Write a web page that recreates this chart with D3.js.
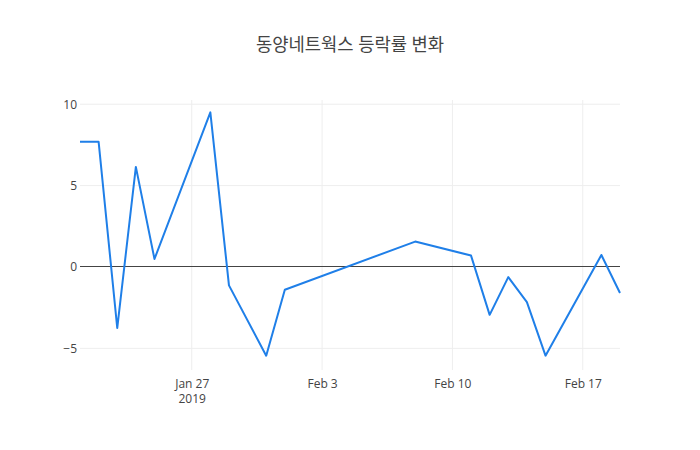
<!DOCTYPE html>
<html>
<head>
<meta charset="utf-8">
<script src="https://cdn.jsdelivr.net/npm/d3@7"></script>
<style>
  body { margin: 0; background: #fff; }
  text { font-family: "Open Sans", "Noto Sans CJK KR", sans-serif; }
</style>
</head>
<body>
<div id="chart"></div>
<script>
// 등락률 (%) by trading day
const dates = [
  "2019-01-21", "2019-01-22", "2019-01-23", "2019-01-24", "2019-01-25",
  "2019-01-28", "2019-01-29", "2019-01-31", "2019-02-01", "2019-02-08",
  "2019-02-11", "2019-02-12", "2019-02-13", "2019-02-14", "2019-02-15",
  "2019-02-18", "2019-02-19"
];
const rates = [
  7.69, 7.69, -3.75, 6.15, 0.49,
  9.5, -1.13, -5.45, -1.4, 1.56,
  0.7, -2.94, -0.62, -2.16, -5.45,
  0.74, -1.6
];
const yTicks = [-5, 0, 5, 10];
const xTicks = ["2019-01-27", "2019-02-03", "2019-02-10", "2019-02-17"];
const title = "동양네트웍스 등락률 변화";

function drawChart() {
  const W = 700, H = 450;
  const margin = { top: 100, right: 80, bottom: 80, left: 80 };
  const width = W - margin.left - margin.right;
  const height = H - margin.top - margin.bottom;

  const parse = d3.timeParse("%Y-%m-%d");
  const data = dates.map((d, i) => ({ date: parse(d), value: rates[i] }));

  const svg = d3.select("#chart")
    .append("svg")
    .attr("width", W)
    .attr("height", H);

  svg.append("text")
    .attr("x", W / 2)
    .attr("y", 51)
    .attr("text-anchor", "middle")
    .style("font-size", "17.7px")
    .style("fill", "#444")
    .text(title);

  const g = svg.append("g")
    .attr("transform", `translate(${margin.left},${margin.top})`);

  const x = d3.scaleTime()
    .domain(d3.extent(data, d => d.date))
    .range([0, width]);

  const y = d3.scaleLinear()
    .domain([-6.33, 10.26])
    .range([height, 0]);

  // gridlines
  g.append("g")
    .selectAll("line")
    .data(xTicks.map(parse))
    .join("line")
    .attr("x1", d => x(d)).attr("x2", d => x(d))
    .attr("y1", 0).attr("y2", height)
    .attr("stroke", "#eee");

  g.append("g")
    .selectAll("line")
    .data(yTicks.filter(v => v !== 0))
    .join("line")
    .attr("x1", 0).attr("x2", width)
    .attr("y1", d => y(d)).attr("y2", d => y(d))
    .attr("stroke", "#eee");

  // zero line
  g.append("line")
    .attr("x1", 0).attr("x2", width)
    .attr("y1", y(0)).attr("y2", y(0))
    .attr("stroke", "#444")
    .attr("stroke-width", 1)
    .attr("shape-rendering", "crispEdges");

  // y axis labels
  const yAxis = g.append("g")
    .call(d3.axisLeft(y).tickValues(yTicks).tickSize(0).tickPadding(3).tickFormat(d => d < 0 ? "\u2212" + Math.abs(d) : d));
  yAxis.select(".domain").remove();
  yAxis.selectAll("text").style("font-size", "12px").style("fill", "#444").style("font-family", "Open Sans");

  // x axis labels
  const fmt = d3.timeFormat("%b %-d");
  const xAxis = g.append("g")
    .attr("transform", `translate(0,${height})`)
    .call(d3.axisBottom(x).tickValues(xTicks.map(parse)).tickSize(0).tickPadding(9).tickFormat(fmt));
  xAxis.select(".domain").remove();
  xAxis.selectAll("text").style("font-size", "12px").style("fill", "#444").style("font-family", "Open Sans");
  xAxis.selectAll(".tick")
    .filter((d, i) => i === 0)
    .append("text")
    .attr("y", 9 + 15)
    .attr("dy", "0.71em")
    .attr("text-anchor", "middle")
    .style("font-size", "12px")
    .style("fill", "#444")
    .text("2019");

  // line
  const line = d3.line()
    .x(d => x(d.date))
    .y(d => y(d.value));

  g.append("path")
    .datum(data)
    .attr("fill", "none")
    .attr("stroke", "#1f7fe8")
    .attr("stroke-width", 2)
    .attr("stroke-linejoin", "round")
    .attr("d", line);
}

drawChart();
</script>
</body>
</html>
